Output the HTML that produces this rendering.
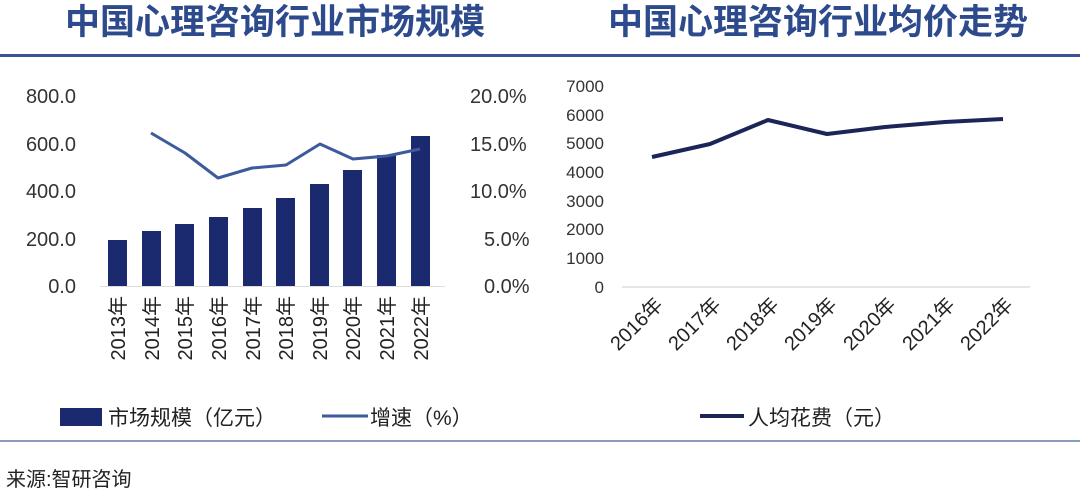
<!DOCTYPE html>
<html><head><meta charset="utf-8"><style>
body{margin:0;width:1080px;height:496px;background:#fff;overflow:hidden}
svg{display:block}
text{font-family:"Liberation Sans","Noto Sans CJK SC",sans-serif}
</style></head><body>
<svg width="1080" height="496" viewBox="0 0 1080 496">
<rect width="1080" height="496" fill="#fff"/>
<text x="275" y="34" font-size="35" font-weight="bold" fill="#2d4a8c" text-anchor="middle">中国心理咨询行业市场规模</text>
<text x="818" y="34" font-size="35" font-weight="bold" fill="#2d4a8c" text-anchor="middle">中国心理咨询行业均价走势</text>
<rect x="0" y="54" width="1080" height="3" fill="#3b5294"/>
<rect x="0" y="440" width="1080" height="2" fill="#8a9bc0"/>
<text x="6" y="486" font-size="20" fill="#222">来源:智研咨询</text>

<g font-size="20" fill="#333" text-anchor="end">
<text x="76" y="103">800.0</text><text x="76" y="151">600.0</text><text x="76" y="198">400.0</text><text x="76" y="246">200.0</text><text x="76" y="293">0.0</text>
</g>
<g font-size="20" fill="#333">
<text x="470" y="103">20.0%</text><text x="470" y="151">15.0%</text><text x="470" y="198">10.0%</text><text x="484" y="246">5.0%</text><text x="484" y="293">0.0%</text>
</g>
<line x1="100" y1="286.5" x2="445" y2="286.5" stroke="#ddd"/>
<g fill="#1b2a6e">
<rect x="108" y="240" width="19" height="46"/>
<rect x="142" y="231" width="19" height="55"/>
<rect x="175" y="224" width="19" height="62"/>
<rect x="209" y="217" width="19" height="69"/>
<rect x="243" y="208" width="19" height="78"/>
<rect x="276" y="198" width="19" height="88"/>
<rect x="310" y="184" width="19" height="102"/>
<rect x="343" y="170" width="19" height="116"/>
<rect x="377" y="155" width="19" height="131"/>
<rect x="411" y="136" width="19" height="150"/>
</g>
<polyline points="151,133 185,153 218,178 252,168 286,165 320,144 353,159 387,156 420,149" fill="none" stroke="#3d5a9c" stroke-width="3" stroke-linejoin="round"/>
<g font-size="20" fill="#222" text-anchor="end">
<text transform="translate(125,296) rotate(-90)">2013年</text>
<text transform="translate(159,296) rotate(-90)">2014年</text>
<text transform="translate(192,296) rotate(-90)">2015年</text>
<text transform="translate(226,296) rotate(-90)">2016年</text>
<text transform="translate(260,296) rotate(-90)">2017年</text>
<text transform="translate(293,296) rotate(-90)">2018年</text>
<text transform="translate(327,296) rotate(-90)">2019年</text>
<text transform="translate(360,296) rotate(-90)">2020年</text>
<text transform="translate(394,296) rotate(-90)">2021年</text>
<text transform="translate(428,296) rotate(-90)">2022年</text>
</g>
<rect x="60" y="408" width="42" height="18" fill="#1b2a6e"/>
<text x="108" y="425" font-size="21" fill="#222">市场规模（亿元）</text>
<line x1="322" y1="416" x2="368" y2="416" stroke="#3d5a9c" stroke-width="3"/>
<text x="370" y="425" font-size="21" fill="#222">增速（%）</text>

<g font-size="17" fill="#333" text-anchor="end">
<text x="604" y="92">7000</text><text x="604" y="121">6000</text><text x="604" y="149">5000</text><text x="604" y="178">4000</text><text x="604" y="207">3000</text><text x="604" y="235">2000</text><text x="604" y="264">1000</text><text x="604" y="293">0</text>
</g>
<line x1="622" y1="287" x2="1030" y2="287" stroke="#ddd" stroke-width="1.5"/>
<polyline points="652,157 710,144 768,120 827,134 885,127 945,122 1003,119" fill="none" stroke="#1b2558" stroke-width="4" stroke-linejoin="round"/>
<g font-size="20" fill="#222" text-anchor="end">
<text transform="translate(664,306) rotate(-45)">2016年</text>
<text transform="translate(722,306) rotate(-45)">2017年</text>
<text transform="translate(780,306) rotate(-45)">2018年</text>
<text transform="translate(838,306) rotate(-45)">2019年</text>
<text transform="translate(897,306) rotate(-45)">2020年</text>
<text transform="translate(956,306) rotate(-45)">2021年</text>
<text transform="translate(1014,306) rotate(-45)">2022年</text>
</g>
<line x1="700" y1="416" x2="744" y2="416" stroke="#1b2558" stroke-width="4"/>
<text x="748" y="425" font-size="21" fill="#222">人均花费（元）</text>
</svg>
</body></html>
